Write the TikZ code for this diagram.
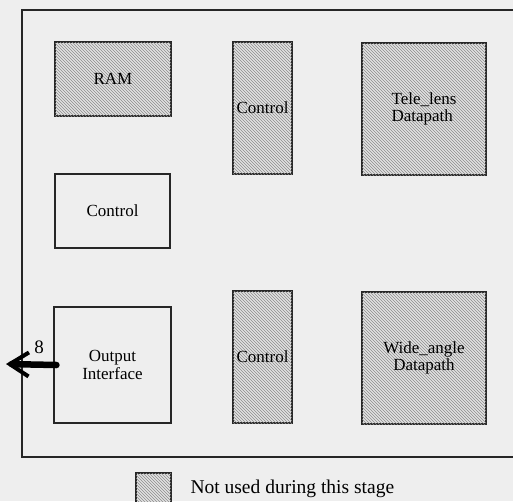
\documentclass[tikz,border=0pt]{standalone}
\usepackage{fontspec}
\setmainfont{Liberation Serif}
\usetikzlibrary{arrows.meta,patterns}
\definecolor{scanpaper}{RGB}{238,238,238}
\definecolor{scanink}{RGB}{38,38,38}
\definecolor{hatchbase}{RGB}{226,226,226}
\definecolor{hatchline}{RGB}{140,140,140}

\begin{document}
\begin{tikzpicture}[x=1pt,y=-1pt,
  blk/.style={draw=scanink,line width=1.1pt,rectangle,inner sep=0pt,
    font=\fontsize{17}{17.5}\selectfont,align=center},
  unused/.style={blk,fill=hatchbase,
    postaction={pattern=north west lines,pattern color=hatchline}},
  bus/.style={line width=6.5pt,line cap=round,draw=black,
    -{Straight Barb[length=19pt,width=24pt,line width=4pt]}}]
  \useasboundingbox (0,0) rectangle (513,501);
  \fill[scanpaper] (0,0) rectangle (513,501);
  % chip outline, right side runs off the page
  \draw[scanink,line width=1.3pt] (540,10) -- (22,10) -- (22,457) -- (540,457);
  % left column
  \node[unused,minimum width=116pt,minimum height=74pt] (ram) at (113,79) {RAM};
  \node[blk,minimum width=115pt,minimum height=74pt] (ctlmain) at (112.5,211) {Control};
  \node[blk,minimum width=117pt,minimum height=116pt] (outif) at (112.5,365) {Output\\Interface};
  % tele lens half
  \node[unused,minimum width=59pt,minimum height=132pt] (ctltele) at (262.5,108) {Control};
  \node[unused,minimum width=124pt,minimum height=132pt,align=left] (dptele) at (424,109) {Tele\_lens\\Datapath};
  % wide angle half
  \node[unused,minimum width=59pt,minimum height=132pt] (ctlwide) at (262.5,357) {Control};
  \node[unused,minimum width=124pt,minimum height=132pt] (dpwide) at (424,358) {Wide\_angle\\Datapath};
  % output bus
  \coordinate (pin) at (6,364);
  \draw[bus] ([xshift=3pt]outif.west) -- (pin);
  \node[font=\fontsize{19}{19}\selectfont,anchor=base] (buswidth) at (39,353) {8};
  % legend
  \node[unused,minimum width=35pt,minimum height=32pt] (key) at (153.5,489) {};
  \node[font=\fontsize{19.5}{20}\selectfont,anchor=base west] (keytext) at (187,493) {Not used during this stage};
\end{tikzpicture}
\end{document}
